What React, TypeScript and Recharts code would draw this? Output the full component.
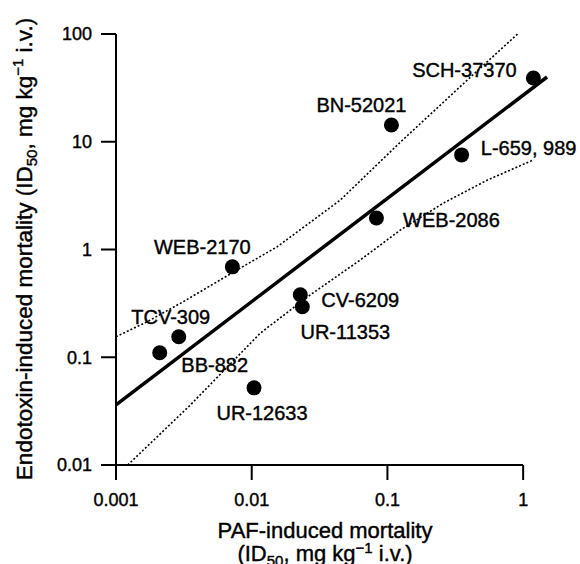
import { ScatterChart, Scatter, XAxis, YAxis, ReferenceLine, Label } from "recharts";

// PAF antagonists: ID50 for PAF-induced vs endotoxin-induced mortality (mg/kg i.v.)
const compounds = [
  "WEB-2170",
  "TCV-309",
  "BB-882",
  "UR-12633",
  "CV-6209",
  "UR-11353",
  "WEB-2086",
  "BN-52021",
  "L-659, 989",
  "SCH-37370"
];
const pafId50 = [0.0072, 0.0029, 0.0021, 0.0104, 0.0228, 0.0236, 0.083, 0.107, 0.352, 1.19];
const endoId50 = [0.69, 0.155, 0.11, 0.052, 0.38, 0.294, 1.96, 14.3, 7.55, 39];

// regression line and 95% band
const fitX = [0.001, 1.5];
const fitY = [0.0362, 39.9];
const upperX = [0.001, 0.00169, 0.00312, 0.00718, 0.0154, 0.045, 0.125, 0.41, 0.91];
const upperY = [0.155, 0.213, 0.327, 0.607, 1.06, 2.88, 9.96, 39.9, 100];
const lowerX = [0.00122, 0.00348, 0.0116, 0.027, 0.0632, 0.125, 0.259, 0.547, 1.19];
const lowerY = [0.01, 0.0354, 0.168, 0.379, 0.801, 1.52, 2.7, 4.42, 6.78];

const xTicks = [0.001, 0.01, 0.1, 1];
const yTicks = [0.01, 0.1, 1, 10, 100];

const toPoints = (xs: number[], ys: number[]) => xs.map((x, i) => ({ x, y: ys[i] }));

const points = compounds.map((name, i) => ({ name, x: pafId50[i], y: endoId50[i] }));
const fit = toPoints(fitX, fitY);
const upper = toPoints(upperX, upperY);
const lower = toPoints(lowerX, lowerY);

// label centre offsets from each dot, px
const labelOffset: Record<string, [number, number]> = {
  "WEB-2170": [-30, -20],
  "TCV-309": [-8, -20],
  "BB-882": [55, 12],
  "UR-12633": [8, 25],
  "CV-6209": [60, 5],
  "UR-11353": [43, 25],
  "WEB-2086": [75, 2],
  "BN-52021": [-30, -20],
  "L-659, 989": [67, -7],
  "SCH-37370": [-69, -8]
};

const FONT = '"Liberation Sans", Arial, Helvetica, sans-serif';
// scanned print looks a little heavier than plain regular
const heavy = { stroke: "#000", strokeWidth: 0.4 };

const Dot = (props: any) => {
  const { cx, cy, payload } = props;
  const [dx, dy] = labelOffset[payload.name] || [0, 0];
  return (
    <g>
      <circle cx={cx} cy={cy} r={7.5} fill="#000" />
      <text
        x={cx + dx}
        y={cy + dy + 7}
        textAnchor="middle"
        fontSize={20}
        fontFamily={FONT}
        fill="#000"
        {...heavy}
      >
        {payload.name}
      </text>
    </g>
  );
};

const NoDot = () => <g />;

const YTitle = () => (
  <text
    x={32}
    y={249}
    transform="rotate(-90, 32, 249)"
    textAnchor="middle"
    fontSize={22.5}
    fontFamily={FONT}
    fill="#000"
    {...heavy}
  >
    Endotoxin-induced mortality (ID
    <tspan fontSize={15} dy={5}>50</tspan>
    <tspan dy={-5}>, mg kg</tspan>
    <tspan fontSize={15} dy={-9}>−1</tspan>
    <tspan dy={9}> i.v.)</tspan>
  </text>
);

const XTitle = () => (
  <g>
    <text x={325} y={538} textAnchor="middle" fontSize={22} fontFamily={FONT} fill="#000" {...heavy}>
      PAF-induced mortality
    </text>
    <text x={325} y={561} textAnchor="middle" fontSize={22} fontFamily={FONT} fill="#000" {...heavy}>
      (ID
      <tspan fontSize={15} dy={5}>50</tspan>
      <tspan dy={-5}>, mg kg</tspan>
      <tspan fontSize={15} dy={-8}>−1</tspan>
      <tspan dy={8}> i.v.)</tspan>
    </text>
  </g>
);

export default function App() {
  return (
    <div
      style={{
        position: "absolute",
        left: 0,
        top: 0,
        width: 580,
        height: 564,
        background: "#fff",
        fontFamily: FONT
      }}
    >
      <ScatterChart width={580} height={564} margin={{ top: 34, right: 16, bottom: 39, left: 0 }}>
        <XAxis
          type="number"
          dataKey="x"
          scale="log"
          domain={[0.001, 2]}
          ticks={xTicks}
          tickFormatter={(v: number) => String(v)}
          axisLine={false}
          tickLine={{ stroke: "#000", strokeWidth: 2 }}
          tickSize={15}
          tickMargin={13}
          height={60}
          tick={{ fill: "#000", fontSize: 18, fontFamily: FONT, ...heavy }}
        >
          <Label content={<XTitle />} />
        </XAxis>
        <YAxis
          type="number"
          dataKey="y"
          scale="log"
          domain={[0.01, 100]}
          ticks={yTicks}
          tickFormatter={(v: number) => String(v)}
          axisLine={{ stroke: "#000", strokeWidth: 2 }}
          tickLine={{ stroke: "#000", strokeWidth: 2 }}
          tickSize={15}
          tickMargin={9}
          width={116}
          tick={{ fill: "#000", fontSize: 18, fontFamily: FONT, ...heavy }}
        >
          <Label content={<YTitle />} />
        </YAxis>
        <ReferenceLine
          segment={[
            { x: 0.001, y: 0.01 },
            { x: 1, y: 0.01 }
          ]}
          stroke="#000"
          strokeWidth={2}
        />
        <Scatter
          data={upper}
          line={{ stroke: "#000", strokeWidth: 1.6, strokeDasharray: "2 2" }}
          shape={NoDot}
          isAnimationActive={false}
        />
        <Scatter
          data={lower}
          line={{ stroke: "#000", strokeWidth: 1.6, strokeDasharray: "2 2" }}
          shape={NoDot}
          isAnimationActive={false}
        />
        <Scatter
          data={fit}
          line={{ stroke: "#000", strokeWidth: 3.5 }}
          shape={NoDot}
          isAnimationActive={false}
        />
        <Scatter data={points} shape={Dot} isAnimationActive={false} />
      </ScatterChart>
    </div>
  );
}
